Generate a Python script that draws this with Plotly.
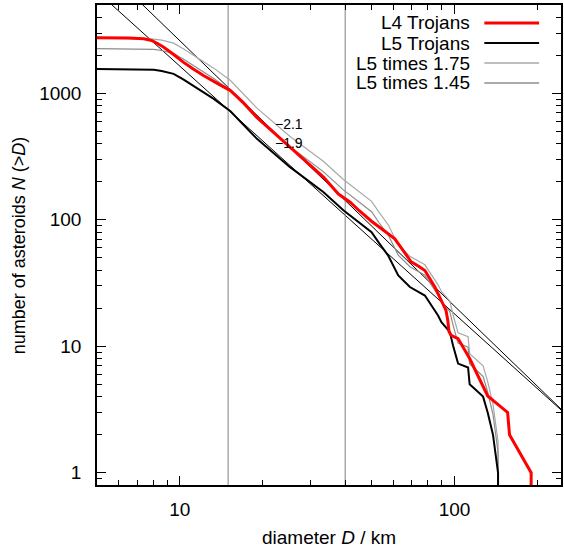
import numpy as np
import plotly.graph_objects as go

# ---------------- data ----------------
l4_d = [5, 6.5, 7.4, 7.9, 8.3, 8.75, 9.5, 10.3, 11.2, 12.2, 13.7, 15.3, 17, 19.0, 22, 25.2, 29, 33.4, 37.8,
        41.7, 45, 50, 55, 60.6, 64, 69.5, 74, 78, 84.8, 90, 93.1, 94.5, 95.5, 97.2, 103,
        113.5, 132, 156, 158.5, 190, 190]
l4_n = [2760, 2745, 2700, 2620, 2480, 2318, 2030, 1766, 1560, 1383, 1200, 1052, 850, 652, 490, 376, 285, 217, 160,
        138, 118, 97, 83, 70.8, 60, 46.6, 43, 39.7, 29.5, 22, 19.2, 16, 13, 12.2, 11.5,
        8, 4.05, 3, 2, 1, 0.1]

l5_d = [5, 7, 7.6, 8.05, 8.6, 9.1, 9.5, 10.3, 11.2, 13.3, 15.3, 19.1, 25.2, 33.3, 39.4, 49.9, 53, 57.4, 62.4,
        68.8, 78, 87.1, 89.6, 96.1, 98.8, 103, 112, 113.5, 127, 132, 138, 144, 144]
l5_n = [1560, 1556, 1550, 1535, 1505, 1465, 1426, 1290, 1154, 905, 723, 437, 261, 166, 119, 80, 66, 52, 36.3,
        29.4, 25.2, 17.5, 15.5, 13, 10.1, 7.3, 6.8, 5, 4, 3, 2, 1, 0.1]

scale_factors = [1.75, 1.45]
scale_names = ["L5 times 1.75", "L5 times 1.45"]
scale_colors = ["#a8a8a8", "#8c8c8c"]

fit_slopes = [-2.1, -1.96]
fit_coeffs = [3.29e5, 1.50e5]
fit_labels = ["\u22122.1", "\u22121.9"]
fit_label_pos = [(21.9, 574), (21.9, 404)]

vlines_d = [15, 40]
x_range = [5, 244]
y_range = [0.8, 5000]
x_ticks = [10, 100]
y_ticks = [1, 10, 100, 1000]

FONT = "Liberation Sans, Arial, Helvetica, sans-serif"

fig = go.Figure()

# fitted power-law lines
for s, c in zip(fit_slopes, fit_coeffs):
    xs = np.array(x_range, dtype=float)
    fig.add_trace(go.Scatter(x=xs, y=c * xs ** s, mode="lines",
                             line=dict(color="black", width=1), showlegend=False, hoverinfo="skip"))

# vertical reference lines
for v in vlines_d:
    fig.add_trace(go.Scatter(x=[v, v], y=[0.1, 1e5], mode="lines",
                             line=dict(color="#808080", width=1), showlegend=False, hoverinfo="skip"))

# scaled L5 curves
for f, nm, col in zip(scale_factors, scale_names, scale_colors):
    fig.add_trace(go.Scatter(x=l5_d, y=[v * f for v in l5_n], mode="lines", name=nm,
                             line=dict(color=col, width=1.2), showlegend=False))

fig.add_trace(go.Scatter(x=l5_d, y=l5_n, mode="lines", name="L5 Trojans",
                         line=dict(color="black", width=2), showlegend=False))
fig.add_trace(go.Scatter(x=l4_d, y=l4_n, mode="lines", name="L4 Trojans",
                         line=dict(color="#ff0000", width=3), showlegend=False))

# ---- layout geometry ----
W, H = 564, 549
ML, MR, MT, MB = 97, 1, 5, 64
pw, ph = W - ML - MR, H - MT - MB

def px2paper(px, py):
    return (px - ML) / pw, (H - MB - py) / ph

annotations = []
shapes = []

# legend (gnuplot-like: text right aligned, sample to the right)
leg_names = ["L4 Trojans", "L5 Trojans"] + scale_names
leg_colors = ["#ff0000", "black"] + scale_colors
leg_widths = [3, 2, 1.5, 1.5]
for i, (nm, col, lw) in enumerate(zip(leg_names, leg_colors, leg_widths)):
    py = 23 + 20 * i
    tx, ty = px2paper(474, py)
    annotations.append(dict(x=tx, y=ty, xref="paper", yref="paper", text=nm, showarrow=False,
                            xanchor="right", yanchor="middle", font=dict(size=19, color="black", family=FONT)))
    x0, _ = px2paper(486, py)
    x1, _ = px2paper(541, py)
    shapes.append(dict(type="line", xref="paper", yref="paper", x0=x0, x1=x1, y0=ty, y1=ty,
                       line=dict(color=col, width=lw)))

for lab, (lx, ly) in zip(fit_labels, fit_label_pos):
    annotations.append(dict(x=np.log10(lx), y=np.log10(ly), xref="x", yref="y", text=lab, showarrow=False,
                            xanchor="left", yanchor="middle", font=dict(size=14, color="black", family=FONT)))

# axis titles
tx, ty = px2paper(330, 537)
annotations.append(dict(x=tx, y=ty, xref="paper", yref="paper", text="diameter <i>D</i> / km",
                        showarrow=False, xanchor="center", yanchor="middle",
                        font=dict(size=19, color="black", family=FONT)))
tx, ty = px2paper(19, 245)
annotations.append(dict(x=tx, y=ty, xref="paper", yref="paper", text="number of asteroids <i>N</i> (&gt;<i>D</i>)",
                        showarrow=False, xanchor="center", yanchor="middle", textangle=-90,
                        font=dict(size=18, color="black", family=FONT)))

x_minor = [6, 7, 8, 9, 20, 30, 40, 50, 60, 70, 80, 90, 200]
y_minor = [0.9] + [m * 10 ** e for e in range(0, 4) for m in range(2, 10) if m * 10 ** e <= 5000]

fig.update_layout(
    width=W, height=H, margin=dict(l=ML, r=MR, t=MT, b=MB),
    paper_bgcolor="white", plot_bgcolor="white",
    font=dict(family=FONT, size=19, color="black"),
    showlegend=False,
    annotations=annotations, shapes=shapes,
    xaxis=dict(type="log", range=[np.log10(x_range[0]), np.log10(x_range[1])],
               tickvals=x_ticks, ticktext=[str(v) for v in x_ticks],
               ticks="inside", ticklen=9, tickwidth=1, tickcolor="black",
               showline=True, linecolor="black", linewidth=1.5, mirror="ticks",
               showgrid=False, zeroline=False, ticklabelstandoff=6,
               tickfont=dict(size=19, family=FONT),
               minor=dict(tickvals=x_minor, ticks="inside", ticklen=5, tickcolor="black", showgrid=False)),
    yaxis=dict(type="log", range=[np.log10(y_range[0]), np.log10(y_range[1])],
               tickvals=y_ticks, ticktext=[str(v) for v in y_ticks],
               ticks="inside", ticklen=9, tickwidth=1, tickcolor="black",
               showline=True, linecolor="black", linewidth=1.5, mirror="ticks",
               showgrid=False, zeroline=False, ticklabelstandoff=10,
               tickfont=dict(size=19, family=FONT),
               minor=dict(tickvals=y_minor, ticks="inside", ticklen=5, tickcolor="black", showgrid=False)),
)

fig.write_html("out.html")
